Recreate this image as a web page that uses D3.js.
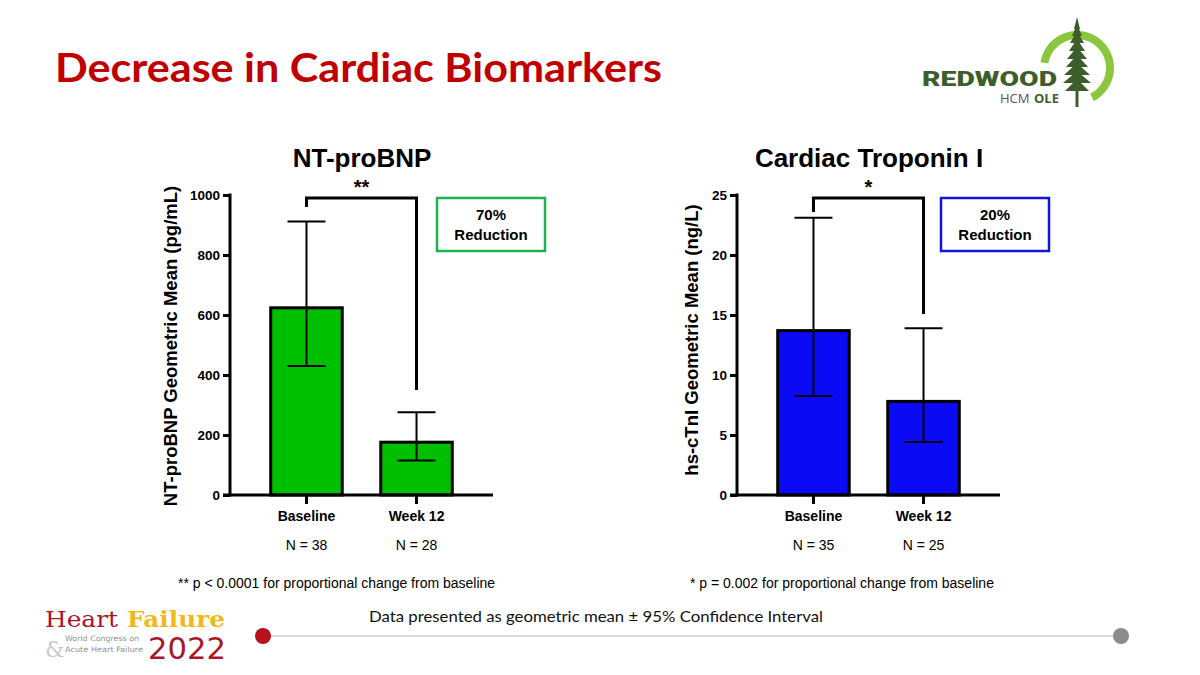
<!DOCTYPE html>
<html><head><meta charset="utf-8">
<script src="https://cdn.jsdelivr.net/npm/d3@7"></script>
<style>html,body{margin:0;padding:0;background:#fff;}svg{display:block;}</style>
</head><body>
<script>
// ---- data ----
const categories = ["Baseline", "Week 12"];
const ntMean = [624, 176];
const ntLower = [430, 115];
const ntUpper = [912, 276];
const ntN = ["N = 38", "N = 28"];
const ntTicks = [0, 200, 400, 600, 800, 1000];
const tnMean = [13.7, 7.8];
const tnLower = [8.25, 4.42];
const tnUpper = [23.1, 13.9];
const tnN = ["N = 35", "N = 25"];
const tnTicks = [0, 5, 10, 15, 20, 25];

const W = 1200, H = 675;
const svg = d3.select("body").append("svg").attr("width", W).attr("height", H);

// Title
svg.append("text").attr("x", 55).attr("y", 82)
  .attr("font-family", "Lato, 'Open Sans', sans-serif").attr("font-weight", 700)
  .attr("font-size", 41).attr("fill", "#c00000")
  .attr("textLength", 607).attr("lengthAdjust", "spacingAndGlyphs")
  .text("Decrease in Cardiac Biomarkers");

function panel(opt) {
  const g = svg.append("g");
  const y = d3.scaleLinear().domain([0, opt.max]).range([495, 195]);
  const x = d3.scaleBand().domain(categories).range([opt.x0, opt.x0 + 263])
    .paddingInner(0.35).paddingOuter(0.37);
  const F = "Arial, 'Liberation Sans', sans-serif";

  // panel title
  g.append("text").attr("x", opt.titleX).attr("y", 167).attr("text-anchor", "middle")
    .attr("font-family", F).attr("font-weight", 700).attr("font-size", 26).attr("fill", "#000")
    .text(opt.title);

  // bars
  g.selectAll("rect.bar").data(categories).enter().append("rect")
    .attr("x", d => x(d)).attr("width", x.bandwidth())
    .attr("y", (d, i) => y(opt.mean[i])).attr("height", (d, i) => y(0) - y(opt.mean[i]))
    .attr("fill", opt.fill).attr("stroke", "#000").attr("stroke-width", 3);

  // error bars
  const cx = d => x(d) + x.bandwidth() / 2;
  const eb = g.selectAll("g.eb").data(categories).enter().append("g");
  eb.append("line").attr("x1", cx).attr("x2", cx)
    .attr("y1", (d, i) => y(opt.lower[i])).attr("y2", (d, i) => y(opt.upper[i]))
    .attr("stroke", "#000").attr("stroke-width", 2);
  eb.append("line").attr("x1", d => cx(d) - 19).attr("x2", d => cx(d) + 19)
    .attr("y1", (d, i) => y(opt.upper[i])).attr("y2", (d, i) => y(opt.upper[i]))
    .attr("stroke", "#000").attr("stroke-width", 2);
  eb.append("line").attr("x1", d => cx(d) - 19).attr("x2", d => cx(d) + 19)
    .attr("y1", (d, i) => y(opt.lower[i])).attr("y2", (d, i) => y(opt.lower[i]))
    .attr("stroke", "#000").attr("stroke-width", 2);

  // y axis
  const ya = g.append("g").attr("transform", `translate(${opt.x0},0)`)
    .call(d3.axisLeft(y).tickValues(opt.ticks).tickFormat(d3.format("d"))
      .tickSize(7).tickPadding(3).tickSizeOuter(0));
  ya.select(".domain").attr("stroke-width", 3).attr("d", `M0,${y(0) + 1.5}V${y(opt.max) - 1.5}`);
  ya.selectAll(".tick line").attr("stroke-width", 3);
  ya.selectAll(".tick text").attr("font-family", F).attr("font-weight", 700)
    .attr("font-size", 13.5).attr("fill", "#000");

  // x axis
  const xa = g.append("g").attr("transform", `translate(0,${y(0)})`)
    .call(d3.axisBottom(x).tickSize(9).tickPadding(7).tickSizeOuter(0));
  xa.select(".domain").attr("stroke-width", 3).attr("d", `M${opt.x0 - 7},0H${opt.x0 + 263}`);
  xa.selectAll(".tick line").attr("stroke-width", 3);
  xa.selectAll(".tick text").attr("font-family", F).attr("font-weight", 700)
    .attr("font-size", 14).attr("fill", "#000");

  // N labels
  g.selectAll("text.n").data(categories).enter().append("text")
    .attr("x", cx).attr("y", 550).attr("text-anchor", "middle")
    .attr("font-family", F).attr("font-size", 14).attr("fill", "#000")
    .text((d, i) => opt.n[i]);

  // y label
  g.append("text").attr("transform", `translate(${opt.ylabX},${opt.ylabY}) rotate(-90)`)
    .attr("text-anchor", "middle").attr("font-family", F).attr("font-weight", 700)
    .attr("font-size", 18.5).attr("fill", "#000").text(opt.ylab);

  // significance bracket
  const bx1 = cx(categories[0]), bx2 = cx(categories[1]);
  g.append("path")
    .attr("d", `M${bx1},${opt.brL}V198H${bx2}V${opt.brR}`)
    .attr("fill", "none").attr("stroke", "#000").attr("stroke-width", 3);
  g.append("text").attr("x", (bx1 + bx2) / 2).attr("y", 194).attr("text-anchor", "middle")
    .attr("font-family", F).attr("font-weight", 700).attr("font-size", 20).attr("fill", "#000")
    .text(opt.stars);

  // reduction box
  g.append("rect").attr("x", opt.boxX).attr("y", 198).attr("width", 108).attr("height", 53)
    .attr("fill", "#fff").attr("stroke", opt.boxColor).attr("stroke-width", 2.5);
  g.append("text").attr("x", opt.boxX + 54).attr("y", 220).attr("text-anchor", "middle")
    .attr("font-family", F).attr("font-weight", 700).attr("font-size", 15).text(opt.pct);
  g.append("text").attr("x", opt.boxX + 54).attr("y", 240).attr("text-anchor", "middle")
    .attr("font-family", F).attr("font-weight", 700).attr("font-size", 15).text("Reduction");

  // footnote
  g.append("text").attr("x", opt.footX).attr("y", 588)
    .attr("font-family", F).attr("font-size", 14).attr("fill", "#000").text(opt.foot);
}

panel({
  x0: 230, max: 1000, ticks: ntTicks, mean: ntMean, lower: ntLower, upper: ntUpper, n: ntN,
  fill: "#00bf00", title: "NT-proBNP", titleX: 362,
  ylab: "NT-proBNP Geometric Mean (pg/mL)", ylabX: 177, ylabY: 346,
  brL: 207, brR: 390, stars: "**", boxX: 437, boxColor: "#1db150", pct: "70%",
  foot: "** p < 0.0001 for proportional change from baseline", footX: 178
});
panel({
  x0: 737, max: 25, ticks: tnTicks, mean: tnMean, lower: tnLower, upper: tnUpper, n: tnN,
  fill: "#0a0af5", title: "Cardiac Troponin I", titleX: 869,
  ylab: "hs-cTnI Geometric Mean (ng/L)", ylabX: 698, ylabY: 340,
  brL: 212, brR: 314, stars: "*", boxX: 941, boxColor: "#1414d8", pct: "20%",
  foot: "* p = 0.002 for proportional change from baseline", footX: 690
});

// bottom line
svg.append("line").attr("x1", 263).attr("x2", 1121).attr("y1", 636).attr("y2", 636)
  .attr("stroke", "#d0d0d0").attr("stroke-width", 1.5);
svg.append("circle").attr("cx", 263).attr("cy", 636).attr("r", 8).attr("fill", "#b5121b");
svg.append("circle").attr("cx", 1121).attr("cy", 636).attr("r", 8).attr("fill", "#8c8c8c");
svg.append("text").attr("x", 369).attr("y", 622)
  .attr("font-family", "Lato, 'Open Sans', sans-serif").attr("font-size", 16).attr("fill", "#111")
  .attr("textLength", 454).attr("lengthAdjust", "spacingAndGlyphs")
  .text("Data presented as geometric mean ± 95% Confidence Interval");

// Heart Failure 2022 logo
const hf = svg.append("g");
hf.append("text").attr("x", 45).attr("y", 627).attr("font-family", "'DejaVu Serif', serif")
  .attr("font-size", 22).attr("fill", "#a8172b").attr("textLength", 73).attr("lengthAdjust", "spacingAndGlyphs").text("Heart");
hf.append("text").attr("x", 127).attr("y", 627).attr("font-family", "'DejaVu Serif', serif").attr("font-weight", 700)
  .attr("font-size", 22).attr("fill", "#f2b81b").attr("textLength", 98).attr("lengthAdjust", "spacingAndGlyphs").text("Failure");
hf.append("text").attr("x", 45).attr("y", 657).attr("font-family", "'DejaVu Serif', serif")
  .attr("font-size", 22).attr("fill", "#c8c8c8").text("&");
hf.append("text").attr("x", 65).attr("y", 641).attr("font-family", "'DejaVu Sans', sans-serif")
  .attr("font-size", 7.5).attr("fill", "#909090").attr("textLength", 74).attr("lengthAdjust", "spacingAndGlyphs").text("World Congress on");
hf.append("text").attr("x", 65).attr("y", 652).attr("font-family", "'DejaVu Sans', sans-serif")
  .attr("font-size", 7.5).attr("fill", "#909090").attr("textLength", 78).attr("lengthAdjust", "spacingAndGlyphs").text("Acute Heart Failure");
hf.append("text").attr("x", 148).attr("y", 659).attr("font-family", "'DejaVu Sans', sans-serif")
  .attr("font-size", 31).attr("fill", "#a8172b").attr("textLength", 78).attr("lengthAdjust", "spacingAndGlyphs").text("2022");

// Redwood logo
const rw = svg.append("g");
const arc = d3.arc().innerRadius(29).outerRadius(37).startAngle(-Math.PI * 0.45).endAngle(Math.PI * 0.85);
rw.append("path").attr("transform", "translate(1077,68)").attr("d", arc()).attr("fill", "#8cc63f");
rw.append("rect").attr("x", 1075.5).attr("y", 30).attr("width", 3).attr("height", 77).attr("fill", "#3d5e2c");
const tiers = [[17,3],[24,5],[31,7],[39,8],[47,10],[55,11],[63,13],[71,14],[79,12]];
tiers.forEach(t => {
  rw.append("path").attr("d", `M1077,${t[0]}L${1077 - t[1]},${t[0] + 12}L${1077 + t[1]},${t[0] + 12}Z`).attr("fill", "#3d5e2c");
});
rw.append("text").attr("x", 922).attr("y", 86).attr("font-family", "Roboto, 'Liberation Sans', sans-serif")
  .attr("font-weight", 900).attr("font-size", 20).attr("fill", "#3d5e2c")
  .attr("textLength", 135).attr("lengthAdjust", "spacingAndGlyphs").text("REDWOOD");
rw.append("text").attr("x", 1000).attr("y", 103).attr("font-family", "'Open Sans', sans-serif")
  .attr("font-size", 13).attr("fill", "#555").text("HCM");
rw.append("text").attr("x", 1034).attr("y", 103).attr("font-family", "'Open Sans', sans-serif").attr("font-weight", 700)
  .attr("font-size", 13).attr("fill", "#3d5e2c").text("OLE");
</script>
</body></html>
